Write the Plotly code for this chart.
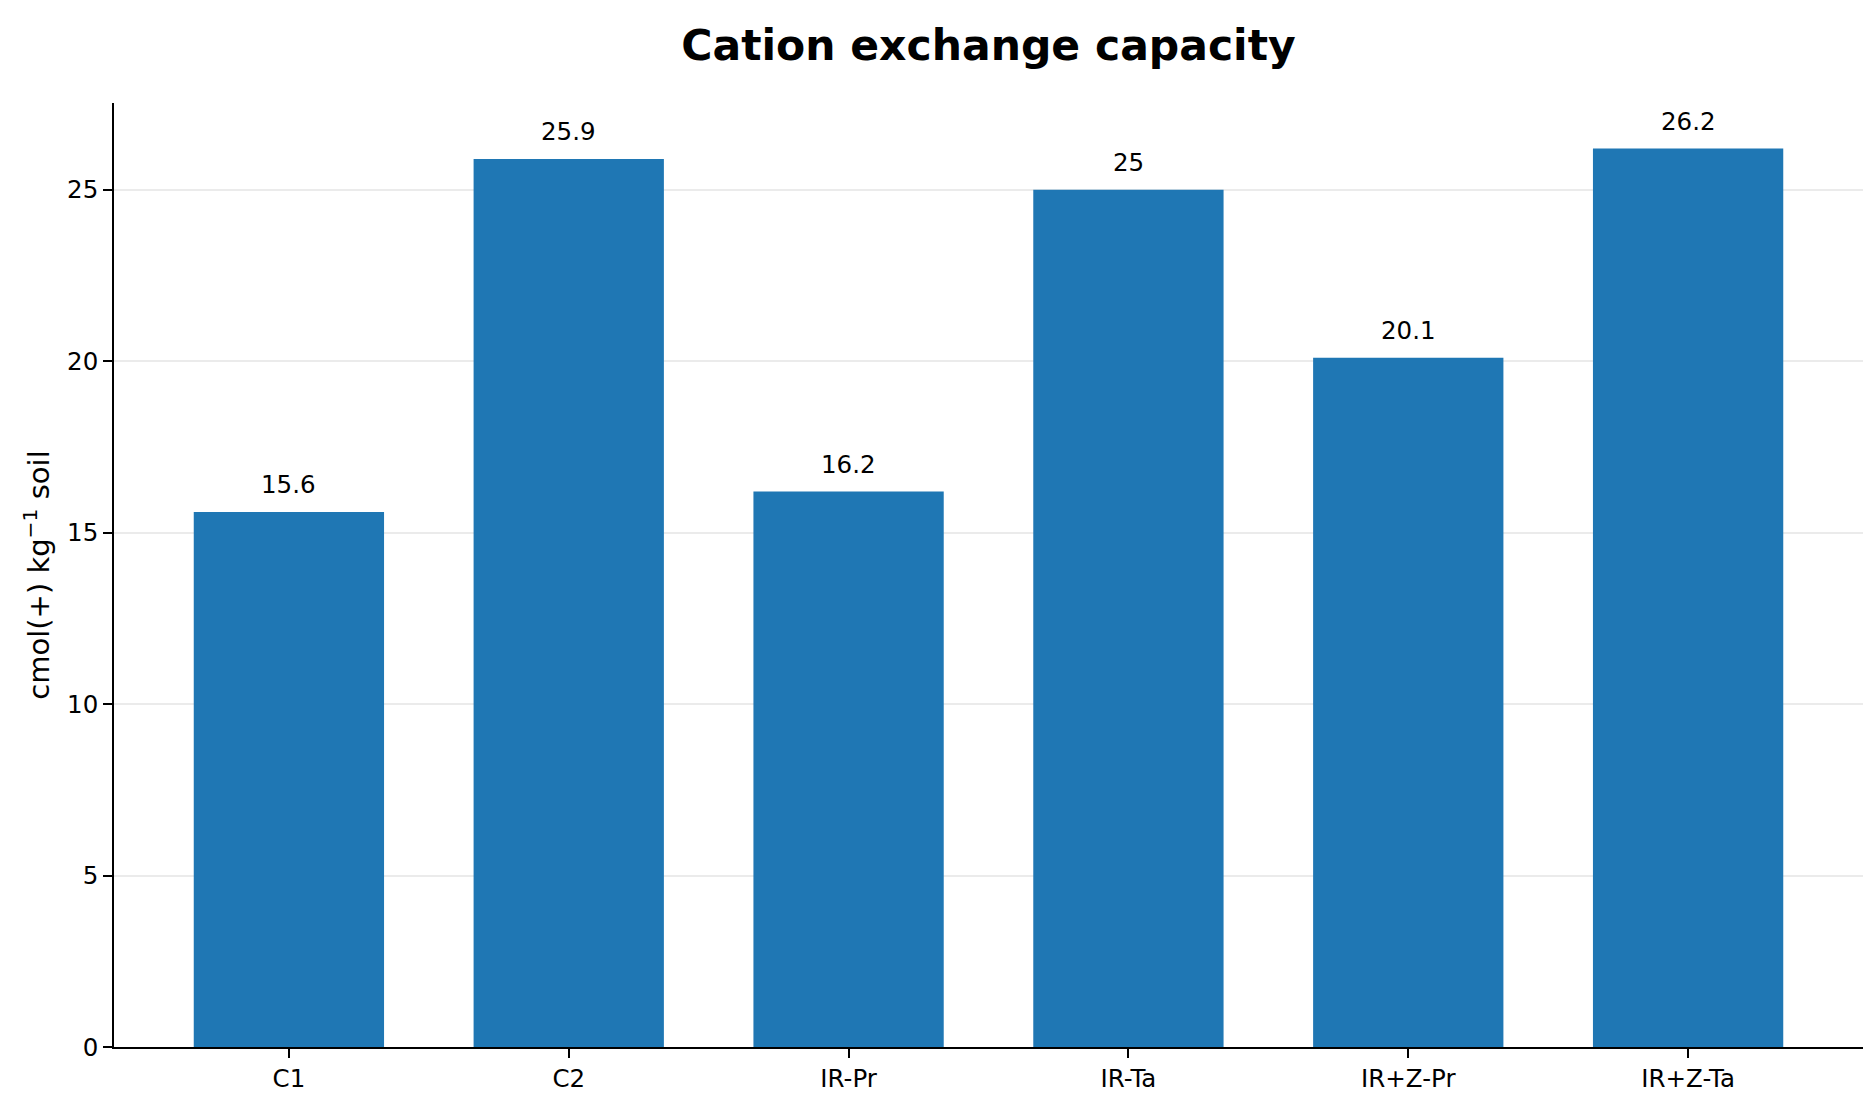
import plotly.graph_objects as go

# data
treatments = ["C1", "C2", "IR-Pr", "IR-Ta", "IR+Z-Pr", "IR+Z-Ta"]
cec = [15.6, 25.9, 16.2, 25.0, 20.1, 26.2]
bar_labels = ["15.6", "25.9", "16.2", "25", "20.1", "26.2"]
y_ticks = [0, 5, 10, 15, 20, 25]

pos = list(range(len(treatments)))

fig = go.Figure()

fig.add_trace(go.Bar(
    x=pos, y=cec, width=0.68,
    marker=dict(color="#1f77b4", line=dict(width=0)),
    hoverinfo="x+y",
))

# value labels above bars
for xi, yi, lab in zip(pos, cec, bar_labels):
    fig.add_annotation(x=xi, y=yi, text=lab, showarrow=False,
                       xanchor="center", yanchor="bottom", yshift=11,
                       font=dict(size=24.5, color="black"))

fig.update_layout(
    width=1872, height=1098,
    margin=dict(l=106, r=17, t=95, b=59),
    plot_bgcolor="white", paper_bgcolor="white",
    font=dict(family="DejaVu Sans", size=24.5, color="black"),
    # title centred over the axes, like matplotlib
    title=dict(text="<b>Cation exchange capacity</b>", xref="paper", x=0.5,
               xanchor="center", y=1 - 37 / 1098, yanchor="middle",
               font=dict(size=42.5, family="DejaVu Sans")),
    showlegend=False,
)

fig.update_xaxes(
    range=[-0.625, 5.625], tickmode="array",
    tickvals=pos, ticktext=treatments,
    showline=True, linecolor="black", linewidth=1.7,
    ticks="outside", ticklen=9, tickwidth=1.7, tickcolor="black",
    showgrid=False, zeroline=False,
)
fig.update_yaxes(
    range=[0, 27.53], tickvals=y_ticks,
    showline=True, linecolor="black", linewidth=1.7,
    ticks="outside", ticklen=9, tickwidth=1.7, tickcolor="black",
    showgrid=True, gridcolor="#ebebeb", gridwidth=1.5, zeroline=False,
    title=dict(text="cmol(+) kg<sup>−1</sup> soil", font=dict(size=29), standoff=9),
)

fig.write_html("out.html")
